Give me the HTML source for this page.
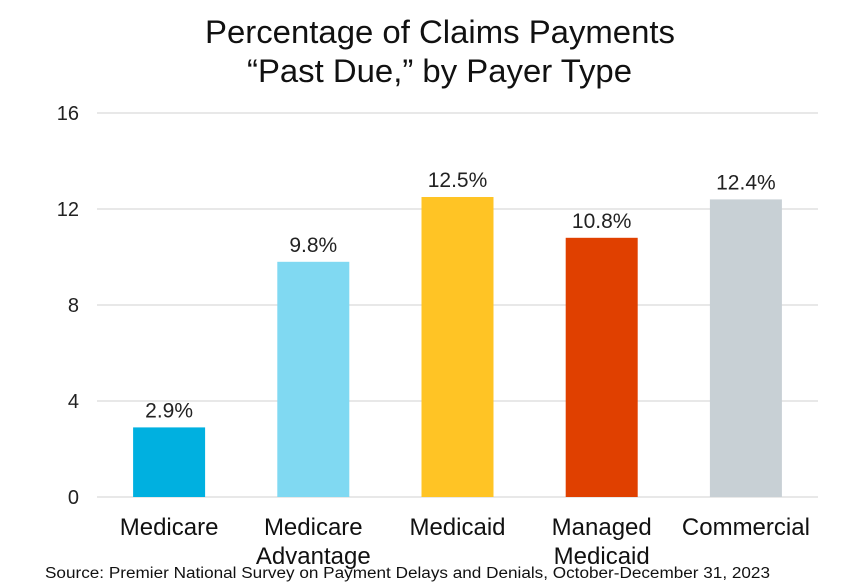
<!DOCTYPE html>
<html><head><meta charset="utf-8"><style>
body{margin:0;background:#fff;}
svg{display:block;font-family:"Liberation Sans",Arial,sans-serif;}
</style></head><body>
<svg id="chart" width="862" height="588" viewBox="0 0 862 588">
<text x="205" y="43" textLength="470" lengthAdjust="spacingAndGlyphs" font-size="32" fill="#111">Percentage of Claims Payments</text>
<text x="247" y="82" textLength="385" lengthAdjust="spacingAndGlyphs" font-size="32" fill="#111">“Past Due,” by Payer Type</text>
<g id="grid"></g><g id="bars"></g><g id="labels"></g>
<text x="45" y="578" font-size="15.5" textLength="725" lengthAdjust="spacingAndGlyphs" fill="#111">Source: Premier National Survey on Payment Delays and Denials, October-December 31, 2023</text>
</svg>
<script>
const categories=[["Medicare"],["Medicare","Advantage"],["Medicaid"],["Managed","Medicaid"],["Commercial"]];
const values=[2.9,9.8,12.5,10.8,12.4];
const valueLabels=["2.9%","9.8%","12.5%","10.8%","12.4%"];
const colors=["#00B0E0","#80D9F2","#FFC425","#E04000","#C8D0D5"];
const ticks=[0,4,8,12,16];
const ns="http://www.w3.org/2000/svg";
const x0=97,x1=818,yMin=0,yMax=16,py0=497,py1=113;
const y=v=>py0-(v-yMin)/(yMax-yMin)*(py0-py1);
const band=(x1-x0)/categories.length;
const xc=i=>x0+band*(i+0.5);
const bw=72;
function mk(tag,attrs,parent,text){const e=document.createElementNS(ns,tag);for(const k in attrs)e.setAttribute(k,attrs[k]);if(text!==undefined)e.textContent=text;parent.appendChild(e);return e;}
const grid=document.getElementById('grid'),bars=document.getElementById('bars'),labels=document.getElementById('labels');
ticks.forEach(t=>{
 const l=mk('line',{x1:x0,x2:x1,y1:y(t),y2:y(t),stroke:'#d9d9d9','stroke-width':1.3},grid);
 
 
 const tx=mk('text',{x:79,y:y(t)+7,'text-anchor':'end','font-size':20,fill:'#222'},grid,String(t));
 
 
});
values.forEach((v,i)=>{
 const r=mk('rect',{x:xc(i)-bw/2,y:y(v),width:bw,height:y(0)-y(v),fill:colors[i]},bars);
 
 
 const vl=mk('text',{x:xc(i),y:y(v)-10,'text-anchor':'middle','font-size':21,fill:'#222'},labels,valueLabels[i]);
 
 
 categories[i].forEach((line,j)=>{
  const c=mk('text',{x:xc(i),y:535+j*29,'text-anchor':'middle','font-size':24,fill:'#111'},labels,line);
  
  
 });
});
</script>
</body></html>
